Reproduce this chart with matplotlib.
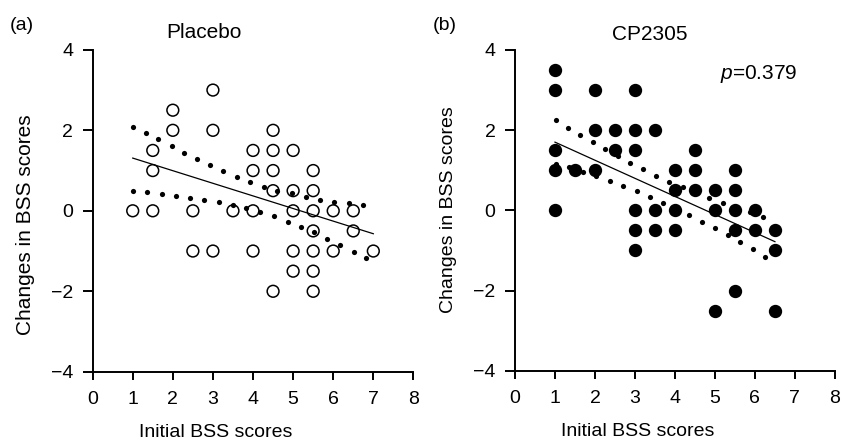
import numpy as np
import matplotlib
matplotlib.use('Agg')
import matplotlib.pyplot as plt

plt.rcParams['font.family'] = 'Liberation Sans'
plt.rcParams['mathtext.fontset'] = 'custom'
plt.rcParams['mathtext.it'] = 'Liberation Sans:italic'
plt.rcParams['mathtext.rm'] = 'Liberation Sans'

# placebo group (open circles)
placebo_x = [1, 1.5, 1.5, 1.5, 2, 2, 2.5, 2.5, 3, 3, 3, 3.5, 4, 4, 4, 4,
             4.5, 4.5, 4.5, 4.5, 4.5, 5, 5, 5, 5, 5, 5.5, 5.5, 5.5, 5.5, 5.5, 5.5, 5.5,
             6, 6, 6.5, 6.5, 7]
placebo_y = [0, 1.5, 1, 0, 2.5, 2, 0, -1, 3, 2, -1, 0, 1.5, 1, 0, -1,
             2, 1.5, 1, 0.5, -2, 1.5, 0.5, 0, -1, -1.5, 1, 0.5, 0, -0.5, -1, -1.5, -2,
             0, -1, 0, -0.5, -1]

# CP2305 group (filled circles)
cp_x = [1, 1, 1, 1, 1, 1.5, 2, 2, 2, 2.5, 2.5, 3, 3, 3, 3, 3, 3,
        3.5, 3.5, 3.5, 4, 4, 4, 4, 4.5, 4.5, 4.5, 5, 5, 5,
        5.5, 5.5, 5.5, 5.5, 5.5, 6, 6, 6.5, 6.5, 6.5]
cp_y = [3.5, 3, 1.5, 1, 0, 1, 3, 2, 1, 2, 1.5, 3, 2, 1.5, 0, -0.5, -1,
        2, 0, -0.5, 1, 0.5, 0, -0.5, 1.5, 1, 0.5, 0.5, 0, -2.5,
        1, 0.5, 0, -0.5, -2, 0, -0.5, -0.5, -1, -2.5]

# regression lines (end points)
placebo_fit_x = [1, 7]
placebo_fit_y = [1.31, -0.57]
cp_fit_x = [1, 6.5]
cp_fit_y = [1.70, -0.78]

# dotted confidence bands, dot by dot
placebo_up_x = [1.00, 1.32, 1.64, 1.97, 2.29, 2.61, 2.93, 3.26, 3.59, 3.92,
                4.27, 4.60, 4.96, 5.32, 5.67, 6.03, 6.39, 6.74]
placebo_up_y = [2.08, 1.93, 1.78, 1.61, 1.44, 1.29, 1.14, 0.99, 0.85, 0.71,
                0.60, 0.50, 0.43, 0.34, 0.28, 0.23, 0.19, 0.15]
placebo_lo_x = [1.00, 1.36, 1.72, 2.07, 2.43, 2.78, 3.14, 3.49, 3.83, 4.18,
                4.53, 4.86, 5.19, 5.53, 5.85, 6.18, 6.52, 6.82]
placebo_lo_y = [0.50, 0.46, 0.42, 0.38, 0.33, 0.27, 0.22, 0.15, 0.07, -0.02,
                -0.13, -0.27, -0.40, -0.52, -0.71, -0.86, -1.02, -1.18]
cp_up_x = [1.03, 1.32, 1.63, 1.94, 2.26, 2.57, 2.88, 3.21, 3.53, 3.86,
           4.19, 4.53, 4.86, 5.19, 5.54, 5.87, 6.21]
cp_up_y = [2.24, 2.06, 1.88, 1.70, 1.53, 1.35, 1.18, 1.02, 0.86, 0.71,
           0.57, 0.43, 0.30, 0.18, 0.07, -0.04, -0.17]
cp_lo_x = [1.03, 1.36, 1.69, 2.02, 2.38, 2.71, 3.04, 3.38, 3.71, 4.04,
           4.36, 4.68, 5.00, 5.32, 5.63, 5.94, 6.25]
cp_lo_y = [1.16, 1.08, 0.96, 0.85, 0.73, 0.60, 0.47, 0.34, 0.19, 0.05,
           -0.11, -0.28, -0.45, -0.62, -0.80, -0.97, -1.15]

fig = plt.figure(figsize=(8.42, 4.41), dpi=100)
ax1 = fig.add_axes([0.110, 0.157, 0.381, 0.730])
ax2 = fig.add_axes([0.6116, 0.159, 0.380, 0.728])

panels = [
    (ax1, placebo_x, placebo_y, 'none', placebo_fit_x, placebo_fit_y,
     [(placebo_up_x, placebo_up_y), (placebo_lo_x, placebo_lo_y)], 'Placebo', 2.78, 4.42),
    (ax2, cp_x, cp_y, 'black', cp_fit_x, cp_fit_y,
     [(cp_up_x, cp_up_y), (cp_lo_x, cp_lo_y)], 'CP2305', 3.38, 4.39),
]

for ax, x, y, fc, fx, fy, bands, title, tx, ty in panels:
    ax.plot(fx, fy, color='black', lw=0.9, zorder=2)
    for bx, by in bands:
        ax.scatter(bx, by, s=14, color='black', linewidths=0, zorder=2)
    ax.scatter(x, y, s=72, facecolors=fc, edgecolors='black', linewidths=1.1,
               zorder=3, clip_on=False)
    ax.set_xlim(0, 8)
    ax.set_ylim(-4, 4)
    ax.set_xticks(range(0, 9))
    ax.set_yticks([-4, -2, 0, 2, 4])
    ax.set_yticklabels(['\u22124', '\u22122', '0', '2', '4'])
    for s in ('top', 'right'):
        ax.spines[s].set_visible(False)
    for s in ('left', 'bottom'):
        ax.spines[s].set_linewidth(1.4)
    ax.tick_params(axis='x', direction='out', length=6, width=1.4, labelsize=14, pad=8)
    ax.tick_params(axis='y', direction='out', length=7, width=1.4, labelsize=14, pad=7)
    ax.set_xlabel('Initial BSS scores', fontsize=14, va='center')
    ax.xaxis.set_label_coords(0.385, -0.19)
    ax.text(tx, ty, title, fontsize=15, ha='center', va='center')

ax1.set_ylabel('Changes in BSS scores', fontsize=15, va='center')
ax2.set_ylabel('Changes in BSS scores', fontsize=14, va='center')
ax1.yaxis.set_label_coords(-0.21, 0.458)
ax2.yaxis.set_label_coords(-0.208, 0.502)

fig.text(10 / 842, 1 - 25 / 441, '(a)', fontsize=14, va='center')
fig.text(433 / 842, 1 - 25 / 441, '(b)', fontsize=14, va='center')
ax2.text(5.125, 3.39, '$\\it{p}$=0.379', fontsize=15, va='center')

fig.savefig('out.png', dpi=100)
